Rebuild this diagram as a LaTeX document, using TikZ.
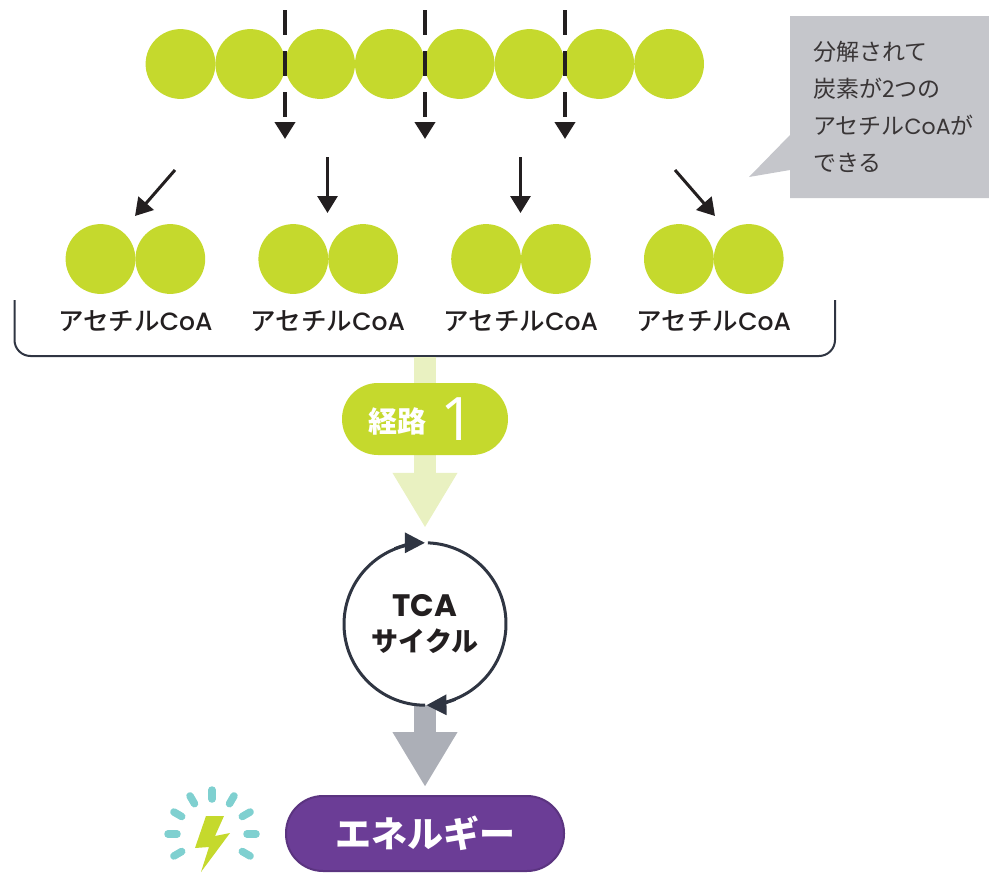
\documentclass[tikz,border=0pt]{standalone}
\usepackage{fontspec}
\setmainfont{Noto Sans CJK JP}
\newfontfamily\medfont{Noto Sans CJK JP Medium}
\newfontfamily\latinfont{Poppins Medium}
\newfontfamily\plainlatin{Poppins}
\newfontfamily\numfont{Open Sans}
\usetikzlibrary{arrows.meta,positioning}

\definecolor{leaf}{HTML}{C5D92D}
\definecolor{paleleaf}{HTML}{E9F1C1}
\definecolor{ink}{HTML}{231F20}
\definecolor{slate}{HTML}{2F3542}
\definecolor{ash}{HTML}{ACAFB7}
\definecolor{cloud}{HTML}{C5C6CB}
\definecolor{grape}{HTML}{6B3D96}
\definecolor{spark}{HTML}{7FD0D0}

\tikzset{
ball/.style={circle,fill=leaf,minimum size=69.8pt,inner sep=0pt,outer sep=0pt},
cutline/.style={ink,line width=4pt,dash pattern=on 25pt off 16pt,-{Triangle[length=17pt,width=20pt]}},
splitline/.style={ink,line width=3pt,-{Triangle[length=17pt,width=20pt]}},
coalabel/.style={ink,font=\fontsize{25.5}{30}\medfont},
bigarrow/.style={line width=22pt,-{Triangle[length=55pt,width=61pt]}},
cycleline/.style={slate,line width=3pt},
cycletip/.style={cycleline,-{Triangle[length=20pt,width=20pt]}},
ray/.style={spark,line width=7.5pt,line cap=round}
}

\begin{document}
\begin{tikzpicture}[x=1pt,y=-1pt]

\useasboundingbox (0,0) rectangle (989,873);

\node(a1)[ball] at (180.5,64){};

\node(a2)[ball,right = 0pt of a1]{};

\node(a3)[ball,right = 0pt of a2]{};

\node(a4)[ball,right = 0pt of a3]{};

\node(a5)[ball,right = 0pt of a4]{};

\node(a6)[ball,right = 0pt of a5]{};

\node(a7)[ball,right = 0pt of a6]{};

\node(a8)[ball,right = 0pt of a7]{};

\coordinate(s1) at (285,10);

\coordinate(e1) at (285,139);

\coordinate(s2) at (425,10);

\coordinate(e2) at (425,139);

\coordinate(s3) at (565,10);

\coordinate(e3) at (565,139);

\draw[cutline] (s1) -- (e1);

\draw[cutline] (s2) -- (e2);

\draw[cutline] (s3) -- (e3);

\node(b1)[ball] at (100.5,259){};

\node(b2)[ball,right = 0pt of b1]{};

\node(b3)[ball,right = 53.2pt of b2]{};

\node(b4)[ball,right = 0pt of b3]{};

\node(b5)[ball,right = 53.2pt of b4]{};

\node(b6)[ball,right = 0pt of b5]{};

\node(b7)[ball,right = 53.2pt of b6]{};

\node(b8)[ball,right = 0pt of b7]{};

\coordinate(f1) at (175,170);

\coordinate(t1) at (135,216);

\coordinate(f2) at (327.5,157);

\coordinate(t2) at (327.5,213);

\coordinate(f3) at (520.5,157);

\coordinate(t3) at (520.5,213);

\coordinate(f4) at (675,170);

\coordinate(t4) at (715,216);

\draw[splitline] (f1) -- (t1);

\draw[splitline] (f2) -- (t2);

\draw[splitline] (f3) -- (t3);

\draw[splitline] (f4) -- (t4);

\node(l1)[coalabel] at (135.5,321){アセチル{\fontsize{25}{30}\latinfont CoA}};

\node(l2)[coalabel] at (328,321){アセチル{\fontsize{25}{30}\latinfont CoA}};

\node(l3)[coalabel] at (521,321){アセチル{\fontsize{25}{30}\latinfont CoA}};

\node(l4)[coalabel] at (714,321){アセチル{\fontsize{25}{30}\latinfont CoA}};

\coordinate(k1) at (14.5,300);

\coordinate(k2) at (14.5,356);

\coordinate(k3) at (835,356);

\coordinate(k4) at (835,300);

\draw[slate,line width=2pt,rounded corners=16pt] (k1) -- (k2) -- (k3) -- (k4);

% callout
\fill[cloud] (790,16) -- (989,16) -- (989,198) -- (790,198) -- (790,170) -- (749,177) -- (790,135) -- cycle;

\node(note)[anchor=north west,inner sep=0pt,align=left,text=ink!90,font=\fontsize{23}{37}\selectfont] at (813,41){分解されて\\炭素が2つの\\アセチル{\fontsize{22}{37}\plainlatin CoA}が\\できる};

\node(tca)[circle,minimum size=162pt,inner sep=0pt,align=center,text=ink,font=\fontsize{27}{35}\selectfont\bfseries] at (425,624){{\fontsize{31}{35}\selectfont\plainlatin\bfseries TCA}\\サイクル};

\coordinate(p1) at (425,357);

\draw[bigarrow,paleleaf,shorten >=15pt] (p1) -- (tca.north);

\coordinate(p2) at (425,787);

\draw[bigarrow,ash] (tca.south) -- (p2);

\draw[cycleline] (tca.south) arc[start angle=270,end angle=100,radius=81pt];

\draw[cycletip] (tca.112) arc[start angle=112,end angle=90,radius=81pt];

\draw[cycleline] (tca.88) arc[start angle=88,end angle=-80,radius=81pt];

\draw[cycletip] (tca.-68) arc[start angle=-68,end angle=-89,radius=81pt];

\node(route)[fill=leaf,rounded corners=35.9pt,minimum width=166pt,minimum height=72pt,inner sep=0pt] at (425,419){};

\node(rword)[text=white,font=\fontsize{29}{30}\selectfont\bfseries] at (397,421){経路};

\node(rnum)[text=white,font=\fontsize{60}{60}\numfont] at (458,419){1};

\node(energy)[fill=grape,draw=grape!85!black,line width=2pt,rounded corners=37pt,minimum width=278pt,minimum height=75pt,inner sep=0pt,text=white,font=\fontsize{36}{40}\selectfont\bfseries] at (425,833.5){エネルギー};

% bolt
\coordinate(bc) at (212,834);

\foreach \a in {0,30,60,90,120,150,180,210,330}{
\draw[ray] (bc) ++(\a:35pt) -- ++(\a:9pt);
}

\fill[leaf] (206,816) -- (224,816) -- (215,836) -- (230,833) -- (201,872) -- (209,847) -- (195,848) -- cycle;

\end{tikzpicture}
\end{document}
